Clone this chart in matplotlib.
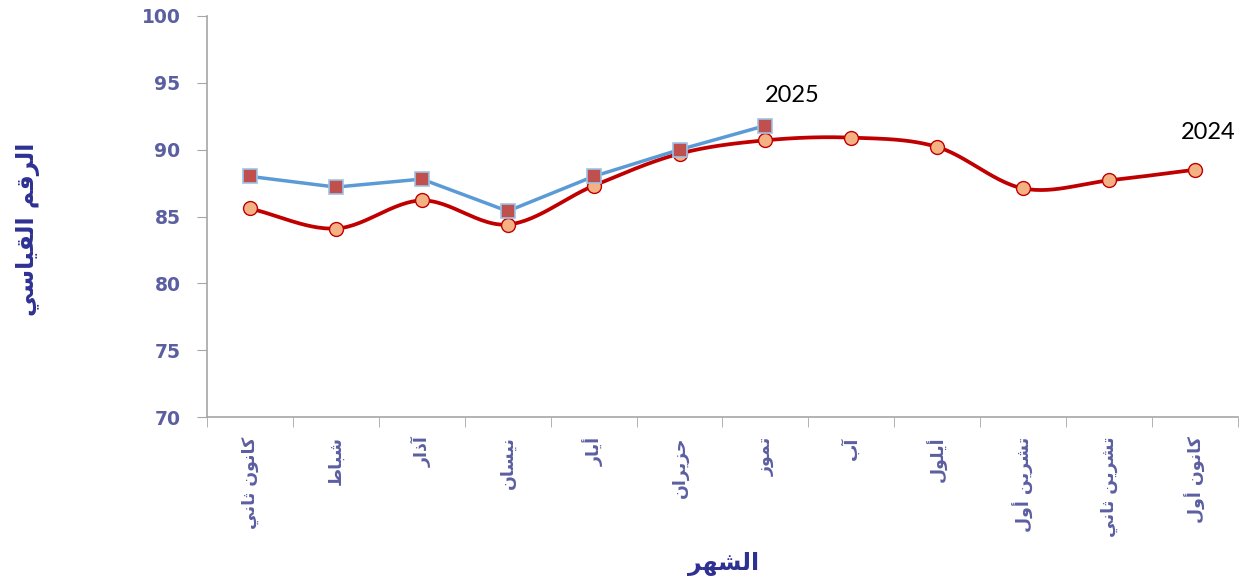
import numpy as np
import matplotlib
matplotlib.use("Agg")
import matplotlib.pyplot as plt

months = ["كانون ثاني", "شباط", "آذار", "نيسان", "أيار", "حزيران",
          "تموز", "آب", "أيلول", "تشرين أول", "تشرين ثاني", "كانون أول"]
vals_2024 = [85.6, 84.1, 86.2, 84.4, 87.3, 89.7, 90.7, 90.9, 90.2, 87.1, 87.7, 88.5]
vals_2025 = [88.0, 87.2, 87.8, 85.4, 88.0, 90.0, 91.8]
y_ticks = [70, 75, 80, 85, 90, 95, 100]
y_label = "الرقم القياسي"
x_label = "الشهر"

# minimal arabic shaping (matplotlib has no shaping/bidi)
FORMS = {
    'ا': ('\uFE8D', '\uFE8E', None, None),
    'آ': ('\uFE81', '\uFE82', None, None),
    'أ': ('\uFE83', '\uFE84', None, None),
    'ب': ('\uFE8F', '\uFE90', '\uFE91', '\uFE92'),
    'ت': ('\uFE95', '\uFE96', '\uFE97', '\uFE98'),
    'ث': ('\uFE99', '\uFE9A', '\uFE9B', '\uFE9C'),
    'ح': ('\uFEA1', '\uFEA2', '\uFEA3', '\uFEA4'),
    'ذ': ('\uFEAB', '\uFEAC', None, None),
    'ر': ('\uFEAD', '\uFEAE', None, None),
    'ز': ('\uFEAF', '\uFEB0', None, None),
    'س': ('\uFEB1', '\uFEB2', '\uFEB3', '\uFEB4'),
    'ش': ('\uFEB5', '\uFEB6', '\uFEB7', '\uFEB8'),
    'ط': ('\uFEC1', '\uFEC2', '\uFEC3', '\uFEC4'),
    'ق': ('\uFED5', '\uFED6', '\uFED7', '\uFED8'),
    'ك': ('\uFED9', '\uFEDA', '\uFEDB', '\uFEDC'),
    'ل': ('\uFEDD', '\uFEDE', '\uFEDF', '\uFEE0'),
    'م': ('\uFEE1', '\uFEE2', '\uFEE3', '\uFEE4'),
    'ن': ('\uFEE5', '\uFEE6', '\uFEE7', '\uFEE8'),
    'ه': ('\uFEE9', '\uFEEA', '\uFEEB', '\uFEEC'),
    'و': ('\uFEED', '\uFEEE', None, None),
    'ي': ('\uFEF1', '\uFEF2', '\uFEF3', '\uFEF4'),
}


def shape(text):
    out = []
    for i, c in enumerate(text):
        if c not in FORMS:
            out.append(c)
            continue
        iso, fin, ini, med = FORMS[c]
        prev = text[i - 1] if i > 0 else None
        nxt = text[i + 1] if i + 1 < len(text) else None
        jp = prev in FORMS and FORMS[prev][2] is not None
        jn = nxt in FORMS and ini is not None
        if jp and jn:
            out.append(med)
        elif jp:
            out.append(fin)
        elif jn:
            out.append(ini)
        else:
            out.append(iso)
    return ''.join(reversed(out))


def smooth(y, n=30):
    # catmull-rom style curve like excel's smoothed line
    y = np.asarray(y, float)
    xs, ys = [], []
    for i in range(len(y) - 1):
        m0 = (y[i + 1] - y[i - 1]) / 2 if i > 0 else (y[i + 1] - y[i])
        m1 = (y[i + 2] - y[i]) / 2 if i + 2 < len(y) else (y[i + 1] - y[i])
        t = np.linspace(0, 1, n)
        h00 = 2 * t**3 - 3 * t**2 + 1
        h10 = t**3 - 2 * t**2 + t
        h01 = -2 * t**3 + 3 * t**2
        h11 = t**3 - t**2
        xs.append(i + t)
        ys.append(h00 * y[i] + h10 * m0 + h01 * y[i + 1] + h11 * m1)
    return np.concatenate(xs), np.concatenate(ys)


tick_col = "#5B5EA0"
lab_col = "#2E3192"
axis_col = "#A6A6A6"

fig = plt.figure(figsize=(12.52, 5.88), dpi=100)
ax = fig.add_axes([0.1653, 0.2908, 0.9888 - 0.1653, 0.9728 - 0.2908])

sx, sy = smooth(vals_2024)
ax.plot(sx, sy, color="#C00000", lw=2.7, zorder=2, solid_capstyle="round")
ax.plot(range(len(vals_2024)), vals_2024, ls="none", marker="o", ms=10,
        mfc="#F4B183", mec="#C00000", mew=1.0, zorder=3)

ax.plot(range(len(vals_2025)), vals_2025, color="#5B9BD5", lw=2.5, marker="s", ms=10,
        mfc="#C0504D", mec="#9DC3E6", mew=1.2, zorder=4)

ax.annotate("2025", (len(vals_2025) - 1, vals_2025[-1]), xytext=(27, 30),
            textcoords="offset pixels", ha="center", va="center",
            fontsize=17, family="Lato", color="black")
ax.annotate("2024", (len(vals_2024) - 1, vals_2024[-1]), xytext=(13, 37),
            textcoords="offset pixels", ha="center", va="center",
            fontsize=17, family="Lato", color="black")

ax.set_ylim(70, 100)
ax.set_xlim(-0.5, len(months) - 0.5)
ax.set_yticks(y_ticks)
ax.set_yticklabels([str(v) for v in y_ticks], fontsize=13.5, fontweight="bold", color=tick_col)
ax.set_xticks(range(len(months)))
ax.set_xticklabels([shape(m) for m in months], rotation=90, fontsize=12.5,
                   fontweight="bold", color=tick_col, ha="center", va="top",
                   family="DejaVu Sans")
ax.set_xticks(np.arange(-0.5, len(months)), minor=True)
ax.tick_params(axis="x", which="major", length=0, pad=14)
ax.tick_params(axis="x", which="minor", length=7, color=axis_col, direction="out")
ax.tick_params(axis="y", length=7, color=axis_col, direction="out", pad=12)

for s in ["top", "right"]:
    ax.spines[s].set_visible(False)
for s in ["left", "bottom"]:
    ax.spines[s].set_color(axis_col)
    ax.spines[s].set_linewidth(1.2)

fig.text(0.022, 0.61, shape(y_label), rotation=90, ha="center", va="center",
         fontsize=17, fontweight="bold", color=lab_col)
fig.text(0.578, 0.04, shape(x_label), ha="center", va="center",
         fontsize=17, fontweight="bold", color=lab_col)

fig.savefig("out.png", dpi=100)
